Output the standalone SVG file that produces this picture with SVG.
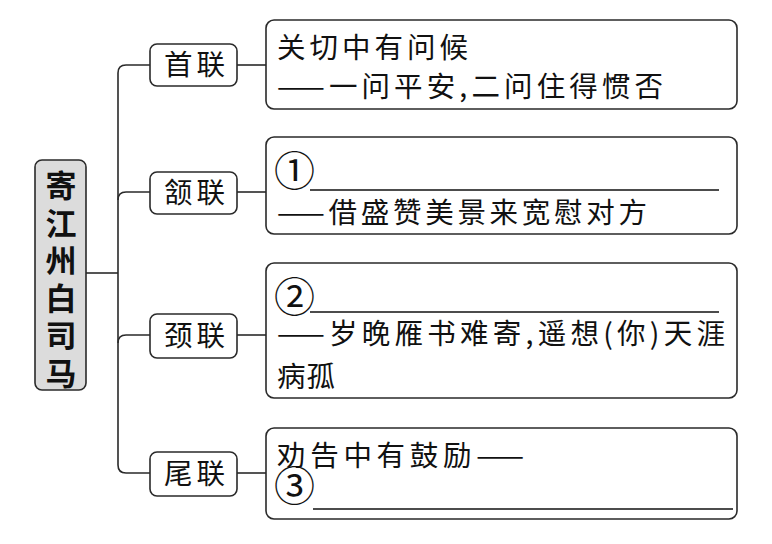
<svg xmlns="http://www.w3.org/2000/svg" width="772" height="544" viewBox="0 0 772 544">
<style>
.box{fill:#fff;stroke:#2a2a2a;stroke-width:1.6}
.root{fill:#dcdcdc;stroke:#2a2a2a;stroke-width:1.6}
.ln{fill:none;stroke:#2a2a2a;stroke-width:1.6}
.t{font-family:"Noto Sans CJK SC","Noto Sans CJK TC",sans-serif;font-size:28.5px;fill:#111}
.c{font-family:"Noto Sans CJK SC",sans-serif;font-size:41px;fill:#111}
.rt{font-family:"Noto Sans CJK SC",sans-serif;font-size:31px;font-weight:bold;fill:#111;writing-mode:vertical-rl;letter-spacing:6.5px}
.u{stroke:#111;stroke-width:1.6}
</style>
<rect width="772" height="544" fill="#fff"/>
<g id="connectors">
<path class="ln" d="M86,273 H118"/>
<path class="ln" d="M150,65 H126 Q118,65 118,73 V465 Q118,473 126,473 H150"/>
<path class="ln" d="M118,200 Q118,192 126,192 H150"/>
<path class="ln" d="M118,343 Q118,335 126,335 H150"/>
<path class="ln" d="M237,65 H266"/>
<path class="ln" d="M237,192 H266"/>
<path class="ln" d="M237,335 H266"/>
<path class="ln" d="M237,473 H266"/>
</g>
<g id="root">
<rect class="root" x="35" y="160" width="51" height="230" rx="7"/>
<text class="rt" x="61" y="170">寄江州白司马</text>
</g>
<g id="n1">
<rect class="box" x="150" y="44" width="87" height="42" rx="7"/>
<text class="t" x="164" y="75" textLength="61" lengthAdjust="spacing">首联</text>
</g>
<g id="n2">
<rect class="box" x="150" y="172" width="87" height="42" rx="7"/>
<text class="t" x="164" y="203" textLength="61" lengthAdjust="spacing">颔联</text>
</g>
<g id="n3">
<rect class="box" x="150" y="314" width="87" height="44" rx="7"/>
<text class="t" x="164" y="346" textLength="61" lengthAdjust="spacing">颈联</text>
</g>
<g id="n4">
<rect class="box" x="150" y="452" width="87" height="44" rx="7"/>
<text class="t" x="164" y="484" textLength="61" lengthAdjust="spacing">尾联</text>
</g>
<g id="c1">
<rect class="box" x="266" y="20" width="471" height="89" rx="8"/>
<text class="t" x="277" y="58" textLength="191" lengthAdjust="spacing">关切中有问候</text>
<text class="t" x="277" y="97" textLength="386" lengthAdjust="spacing">——一问平安,二问住得惯否</text>
</g>
<g id="c2">
<rect class="box" x="266" y="137" width="471" height="97" rx="8"/>
<text class="c" x="274" y="186">①</text>
<line class="u" x1="310" y1="190" x2="719" y2="190"/>
<text class="t" x="277" y="223" textLength="370" lengthAdjust="spacing">——借盛赞美景来宽慰对方</text>
</g>
<g id="c3">
<rect class="box" x="266" y="263" width="471" height="135" rx="8"/>
<text class="c" x="274" y="312">②</text>
<line class="u" x1="310" y1="312" x2="719" y2="312"/>
<text class="t" x="277" y="344" textLength="448" lengthAdjust="spacing">——岁晚雁书难寄,遥想(你)天涯</text>
<text class="t" x="277" y="387" textLength="58" lengthAdjust="spacing">病孤</text>
</g>
<g id="c4">
<rect class="box" x="266" y="428" width="471" height="91" rx="8"/>
<text class="t" x="277" y="466" textLength="247" lengthAdjust="spacing">劝告中有鼓励——</text>
<text class="c" x="274" y="501">③</text>
<line class="u" x1="313" y1="509" x2="733" y2="509"/>
</g>
</svg>
